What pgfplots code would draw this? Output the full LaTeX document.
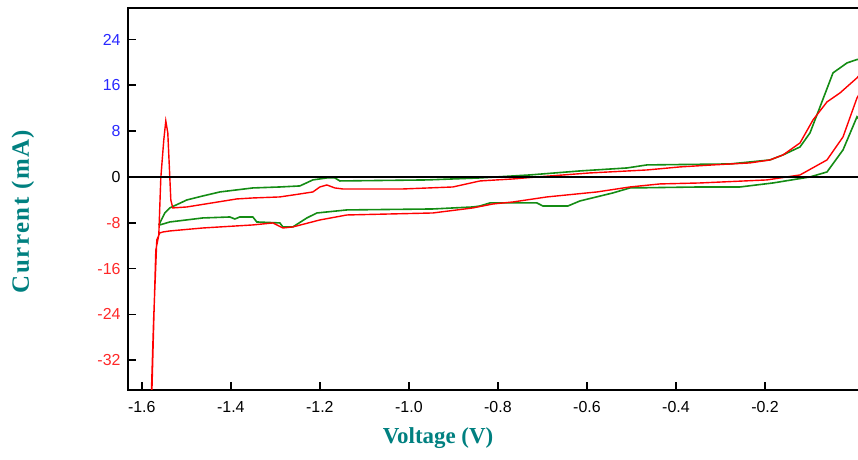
\documentclass[border=0pt]{standalone}
\usepackage{pgfplots}
\pgfplotsset{compat=1.18}
\usepackage{fontspec}
\setmainfont{Liberation Sans}
\newfontfamily\labelfont{Liberation Serif}
\newfontfamily\ylabelfont[LetterSpace=6]{Liberation Serif}
\definecolor{cvred}{RGB}{255,0,0}
\definecolor{cvgreen}{RGB}{20,140,20}
\definecolor{lblteal}{RGB}{0,128,128}
\definecolor{tickblue}{RGB}{40,40,255}
\definecolor{tickred}{RGB}{255,40,40}

\begin{document}
\begin{tikzpicture}
\path[use as bounding box] (0bp,0bp) rectangle (858bp,460bp);
\begin{axis}[
    at={(128bp,70bp)}, anchor=south west,
    scale only axis, width=735bp, height=382bp,
    xmin=-1.631, xmax=0.0202, ymin=-37.2, ymax=29.5,
    axis line style={line width=2.5bp},
    tick align=inside, xtick pos=left, ytick pos=left,
    major tick length=8bp,
    tick style={line width=1.8bp, black},
    xtick={-1.6,-1.4,-1.2,-1.0,-0.8,-0.6,-0.4,-0.2},
    xticklabels={-1.6,-1.4,-1.2,-1.0,-0.8,-0.6,-0.4,-0.2},
    ytick={-32,-24,-16,-8,0,8,16,24},
    yticklabels={\color{tickred}-32,\color{tickred}-24,\color{tickred}-16,\color{tickred}-8,0,\color{tickblue}8,\color{tickblue}16,\color{tickblue}24},
    xticklabel style={font=\fontsize{16}{18}\selectfont, yshift=-8bp},
    yticklabel style={font=\fontsize{16}{18}\selectfont, xshift=-4bp},
    xlabel={Voltage (V)},
    xlabel style={font=\labelfont\bfseries\fontsize{23}{25}\selectfont, text=lblteal,
      at={(rel axis cs:0.4218,0)}, anchor=center, yshift=-48bp},
  ]
  % green scan
  \addplot[cvgreen, line width=1.6bp] coordinates {
    (-1.5618,-8.38) (-1.5483,-6.29) (-1.5371,-5.41) (-1.4989,-4.02) (-1.4629,-3.32)
    (-1.4247,-2.62) (-1.3506,-1.92) (-1.2899,-1.75) (-1.2449,-1.57) (-1.2157,-0.52)
    (-1.1843,-0.17) (-1.1663,-0.17) (-1.155,-0.70) (-0.9596,-0.52) (-0.8404,-0.17)
    (-0.7281,0.35) (-0.6157,1.05) (-0.5101,1.57) (-0.4652,2.10) (-0.2787,2.27)
    (-0.1888,2.97) (-0.1596,3.84) (-0.1213,5.24) (-0.0989,7.69) (-0.0764,12.23)
    (-0.0472,18.17) (-0.0157,19.91) (0.0067,20.5) (0.012,20.5)
    (0.012,10.0) (0.0067,10.5) (-0.0247,4.72) (-0.0607,0.87) (-0.0989,0) (-0.1820,-1.05)
    (-0.2562,-1.75) (-0.346,-1.75) (-0.5034,-1.92) (-0.5416,-2.79) (-0.6157,-4.19)
    (-0.6427,-5.07) (-0.6989,-5.07) (-0.7124,-4.54) (-0.818,-4.54) (-0.8404,-5.07)
    (-0.8562,-5.24) (-0.9461,-5.59) (-1.1393,-5.76) (-1.2067,-6.29) (-1.2292,-7.16)
    (-1.2607,-8.73) (-1.2831,-8.73) (-1.2899,-8.03) (-1.3416,-7.86) (-1.3506,-6.99)
    (-1.3798,-6.99) (-1.391,-7.34) (-1.4022,-6.99) (-1.4629,-7.16) (-1.5371,-7.86)
    (-1.5596,-8.38)
  };
  % red scan
  \addplot[cvred, line width=1.4bp] coordinates {
    (-1.5775,-38) (-1.573,-24.98) (-1.5685,-12.75) (-1.5618,-10.13) (-1.5573,-0.17)
    (-1.5506,6.46) (-1.5461,9.78) (-1.5416,7.69) (-1.5371,0) (-1.5348,-4.02)
    (-1.5303,-5.41) (-1.4989,-5.24) (-1.3865,-3.84) (-1.3506,-3.67) (-1.2899,-3.49)
    (-1.2449,-2.97) (-1.2157,-2.62) (-1.2,-1.75) (-1.1843,-1.40) (-1.1663,-1.92)
    (-1.1483,-2.10) (-1.0135,-2.10) (-0.9011,-1.75) (-0.8404,-0.70) (-0.7663,-0.35)
    (-0.7124,0) (-0.5933,0.70) (-0.4652,1.22) (-0.3910,1.75) (-0.3169,2.10)
    (-0.2337,2.45) (-0.1888,2.97) (-0.1596,3.84) (-0.1213,5.94) (-0.0921,9.96)
    (-0.0607,13.10) (-0.0315,14.67) (0.0067,17.3) (0.012,17.8)
    (0.012,14.5) (0.0067,13.8) (-0.0247,6.99) (-0.0607,2.97) (-0.1213,0.35) (-0.1955,-0.52)
    (-0.346,-1.05) (-0.436,-1.22) (-0.5034,-1.75) (-0.5775,-2.62) (-0.6899,-3.49)
    (-0.7663,-4.37) (-0.8112,-4.72) (-0.8562,-5.41) (-0.9461,-6.29) (-1.1393,-6.64)
    (-1.2,-7.51) (-1.2607,-8.73) (-1.2831,-8.91) (-1.3056,-8.03) (-1.3506,-8.38)
    (-1.4629,-8.91) (-1.5371,-9.43) (-1.5528,-9.61) (-1.5596,-9.78) (-1.5663,-11.0)
    (-1.5735,-24.98) (-1.5786,-38)
  };
  % zero line
  \addplot[black, line width=1.5bp] coordinates {(-1.7,0) (0.1,0)};
\end{axis}
\node[rotate=90, text=lblteal, font=\ylabelfont\bfseries\fontsize{25}{27}\selectfont]
  at (23bp,248.5bp) {Current (mA)};
\end{tikzpicture}
\end{document}
